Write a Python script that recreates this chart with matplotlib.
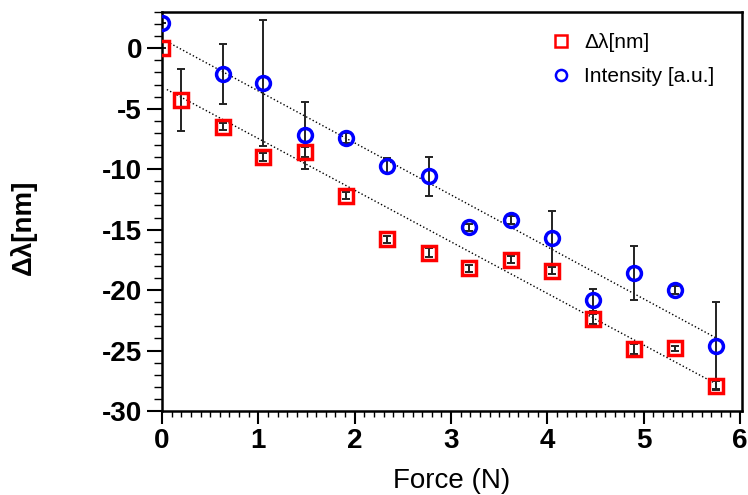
import matplotlib
matplotlib.use("Agg")
from matplotlib import pyplot as plt
from matplotlib.ticker import MultipleLocator
import numpy as np

# readings from the picture
force_red = [0.0, 0.2, 0.63, 1.05, 1.48, 1.91, 2.34, 2.77, 3.19, 3.62, 4.05, 4.47, 4.90, 5.32, 5.75]
shift = [0.0, -4.3, -6.5, -9.0, -8.6, -12.2, -15.8, -16.9, -18.2, -17.5, -18.4, -22.4, -24.9, -24.8, -27.9]
shift_err = [0.0, 2.55, 0.3, 0.3, 0.4, 0.3, 0.3, 0.4, 0.3, 0.3, 0.3, 0.4, 0.4, 0.2, 0.4]

force_blue = [0.0, 0.63, 1.05, 1.48, 1.91, 2.34, 2.77, 3.19, 3.62, 4.05, 4.47, 4.90, 5.32, 5.75]
intensity = [2.1, -2.15, -2.9, -7.2, -7.4, -9.7, -10.6, -14.8, -14.2, -15.7, -20.8, -18.6, -20.0, -24.6]
intensity_err = [0.0, 2.5, 5.2, 2.75, 0.4, 0.6, 1.6, 0.3, 0.3, 2.2, 0.9, 2.25, 0.3, 3.6]

# dotted linear fits (slope, intercept) and their x range
fit_blue = (-4.3, 0.77)
fit_red = (-4.27, -3.2)
fit_range = [0.05, 5.75]

plt.rcParams['font.family'] = ['Liberation Sans', 'DejaVu Sans']
plt.rcParams['axes.unicode_minus'] = False

fig = plt.figure(figsize=(7.48, 4.95), dpi=100)
ax = fig.add_axes([0.2166, 0.1697, 0.7754, 0.8061])

fx = np.array(fit_range)
ax.plot(fx, fit_blue[0] * fx + fit_blue[1], ':', color='black', lw=1.0)
ax.plot(fx, fit_red[0] * fx + fit_red[1], ':', color='black', lw=1.0)

ax.errorbar(force_red, shift, yerr=shift_err, fmt='none', ecolor='#222222',
            elinewidth=1.4, capsize=3, capthick=1.4, zorder=2)
ax.errorbar(force_blue, intensity, yerr=intensity_err, fmt='none', ecolor='#222222',
            elinewidth=1.4, capsize=3, capthick=1.4, zorder=2)

ax.plot(force_red, shift, 's', mfc='none', mec='red', mew=2.5, ms=10,
        label=u'\u0394\u03bb[nm]', zorder=3)
ax.plot(force_blue, intensity, 'o', mfc='none', mec='blue', mew=2.5, ms=10,
        label='Intensity [a.u.]', zorder=3)

ax.set_xlim(0, 6.02)
ax.set_ylim(-30, 3)
ax.xaxis.set_major_locator(MultipleLocator(1))
ax.xaxis.set_minor_locator(MultipleLocator(0.1))
ax.yaxis.set_major_locator(MultipleLocator(5))
ax.yaxis.set_minor_locator(MultipleLocator(1))
ax.tick_params(which='major', direction='out', length=9, width=1.5, labelsize=20)
ax.tick_params(axis='y', which='major', length=11)
ax.tick_params(which='minor', direction='out', length=4, width=1.0)
ax.tick_params(axis='y', which='minor', length=6)
for lbl in ax.get_xticklabels() + ax.get_yticklabels():
    lbl.set_fontweight('bold')
for s in ax.spines.values():
    s.set_linewidth(1.8)

ax.set_xlabel('Force (N)', fontsize=20)
ax.xaxis.set_label_coords(0.5, -0.142)
ax.set_ylabel(u'\u0394\u03bb[nm]', fontsize=20, fontweight='bold')
ax.yaxis.set_label_coords(-0.215, 0.46)

leg = ax.legend(loc='upper right', bbox_to_anchor=(0.988, 1.0), frameon=False,
                fontsize=15, markerscale=0.8, handlelength=1.2, handletextpad=0.5,
                borderaxespad=0.6, labelspacing=0.75)
for h in leg.legend_handles:
    h.set_markeredgewidth(1.8)

fig.savefig('out.png', dpi=100)
